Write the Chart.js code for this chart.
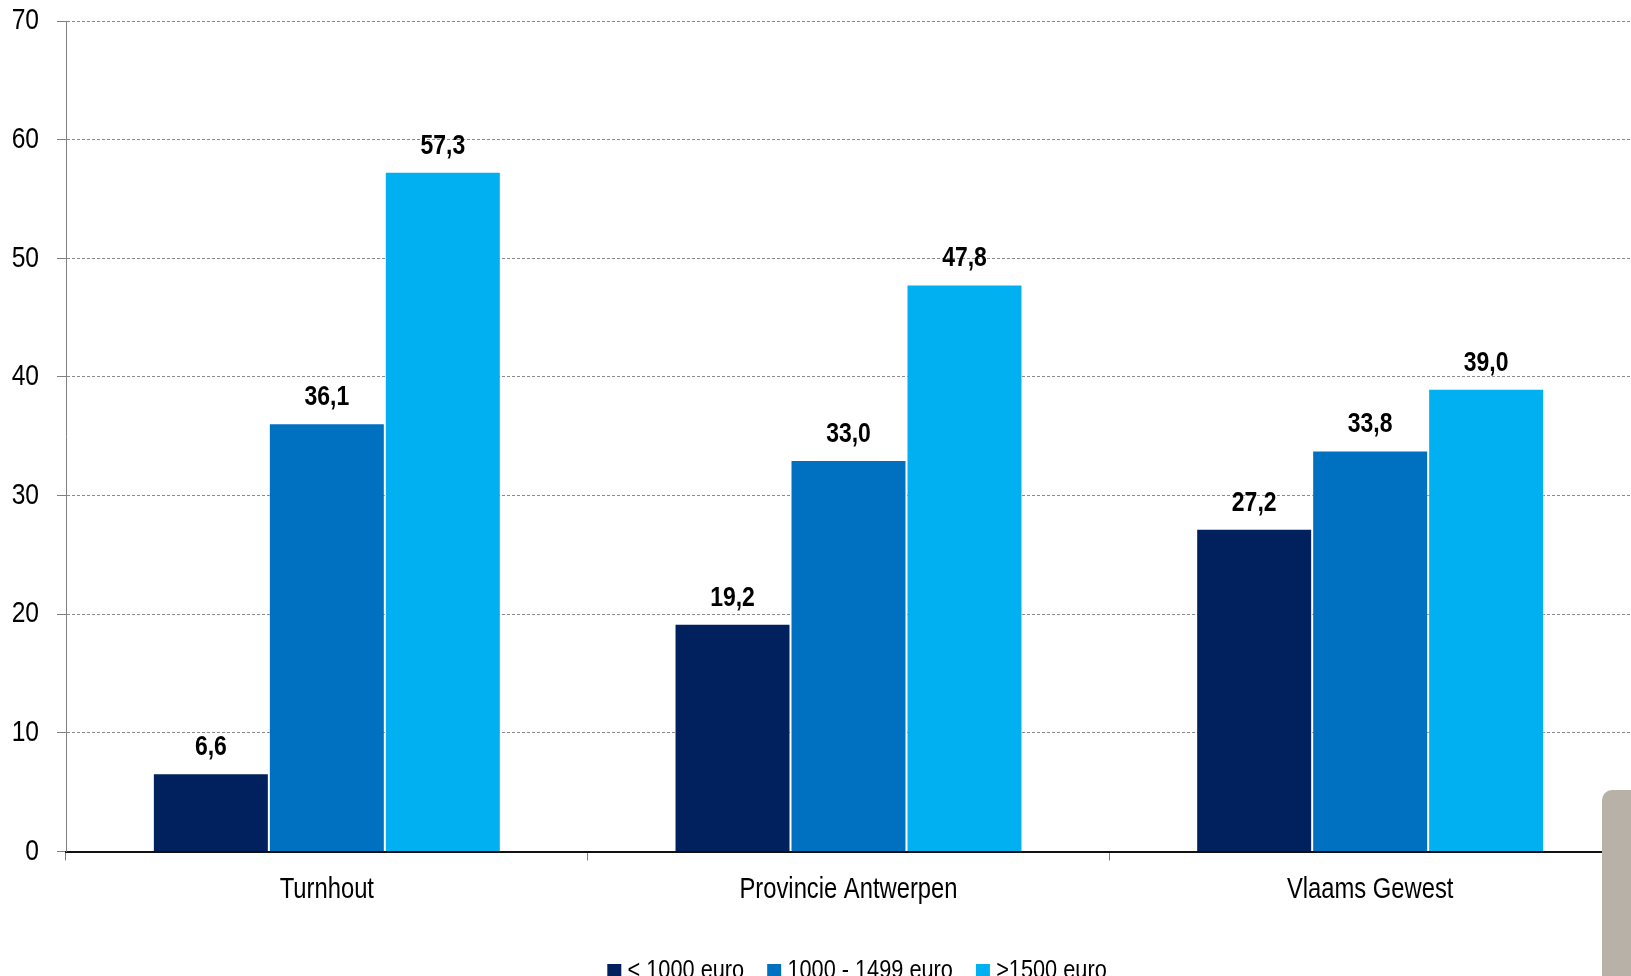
<!DOCTYPE html>
<html>
<head>
<meta charset="utf-8">
<script src="https://cdn.jsdelivr.net/npm/chart.js@4"></script>
<style>
  html, body { margin: 0; padding: 0; background: #fff; overflow: hidden; }
  #wrap { position: relative; width: 1631px; height: 976px; overflow: hidden; }
  #deco { position: absolute; left: 1602px; top: 790px; width: 40px; height: 200px;
          background: #b8b1a7; border-top-left-radius: 10px; }
</style>
</head>
<body>
<div id="wrap">
  <canvas id="c" width="1631" height="994"></canvas>
  <div id="deco"></div>
</div>
<script>
const categories = ['Turnhout', 'Provincie Antwerpen', 'Vlaams Gewest'];
const seriesNames = ['< 1000 euro', '1000 - 1499 euro', '>1500 euro'];
const below1000 = [6.6, 19.2, 27.2];
const from1000to1499 = [36.1, 33.0, 33.8];
const above1500 = [57.3, 47.8, 39.0];
const yTicks = [0, 10, 20, 30, 40, 50, 60, 70];
const seriesColors = ['#00205E', '#0070C0', '#00B0F0'];

const NARROW = '"Arial Narrow", "Liberation Sans", Arial, sans-serif';

// Condense narrow-family text horizontally (no narrow font installed)
const canvas = document.getElementById('c');
const ctx2d = canvas.getContext('2d');
const K = 0.82;
const origFill = ctx2d.fillText.bind(ctx2d);
const origMeasure = ctx2d.measureText.bind(ctx2d);
ctx2d.fillText = function (t, x, y) {
  if (!String(this.font).includes('Narrow')) { origFill(t, x, y); return; }
  this.save();
  this.translate(x, y);
  this.scale(K, 1);
  origFill(t, 0, 0);
  this.restore();
};
ctx2d.measureText = function (t) {
  const m = origMeasure(t);
  if (!String(this.font).includes('Narrow')) return m;
  return {
    width: m.width * K,
    actualBoundingBoxAscent: m.actualBoundingBoxAscent,
    actualBoundingBoxDescent: m.actualBoundingBoxDescent,
    actualBoundingBoxLeft: m.actualBoundingBoxLeft * K,
    actualBoundingBoxRight: m.actualBoundingBoxRight * K
  };
};

// legend swatches: 14px square placed just before the label text
const swatches = seriesColors.map(c => {
  const s = document.createElement('canvas');
  s.width = 40; s.height = 14;
  const g = s.getContext('2d');
  g.fillStyle = c; g.fillRect(25, 0, 14, 14);
  return s;
});

const valueLabels = {
  id: 'valueLabels',
  afterDatasetsDraw(chart) {
    const ctx = chart.ctx;
    ctx.save();
    ctx.font = 'bold 28px ' + NARROW;
    ctx.fillStyle = '#000';
    ctx.textAlign = 'center';
    ctx.textBaseline = 'alphabetic';
    chart.data.datasets.forEach((ds, i) => {
      const meta = chart.getDatasetMeta(i);
      meta.data.forEach((bar, j) => {
        const v = ds.data[j];
        ctx.fillText(v.toFixed(1).replace('.', ','), bar.x, bar.y - 18);
      });
    });
    ctx.restore();
  }
};

new Chart(canvas, {
  type: 'bar',
  data: {
    labels: categories,
    datasets: [
      { label: seriesNames[0], data: below1000, backgroundColor: seriesColors[0] },
      { label: seriesNames[1], data: from1000to1499, backgroundColor: seriesColors[1] },
      { label: seriesNames[2], data: above1500, backgroundColor: seriesColors[2] }
    ].map(d => Object.assign(d, { borderColor: 'rgba(255,255,255,0.35)', borderWidth: 1,
      categoryPercentage: 0.667, barPercentage: 1.0 }))
  },
  options: {
    responsive: false,
    animation: false,
    layout: { padding: { top: 21, right: 0, left: 0, bottom: 0 } },
    plugins: {
      legend: {
        position: 'bottom',
        fullSize: false,
        labels: {
          font: { family: NARROW, size: 26.5 },
          color: '#000',
          usePointStyle: true,
          pointStyleWidth: 24,
          boxHeight: 14,
          padding: 6,
          generateLabels(chart) {
            return Chart.defaults.plugins.legend.labels.generateLabels(chart)
              .map((l, i) => Object.assign(l, { pointStyle: swatches[i] }));
          }
        }
      },
      tooltip: { enabled: false }
    },
    scales: {
      x: {
        offset: true,
        grid: { offset: true, drawOnChartArea: false, drawTicks: true, tickLength: 9,
                tickColor: '#808080', tickWidth: 1 },
        border: { display: true, color: '#111', width: 2 },
        ticks: { font: { family: NARROW, size: 29 }, color: '#000', padding: 12, maxRotation: 0 },
        afterFit(scale) { scale.height = 100; scale.paddingLeft = 0; scale.paddingRight = 0; }
      },
      y: {
        min: 0, max: 70,
        afterBuildTicks(scale) { scale.ticks = yTicks.map(v => ({ value: v })); },
        grid: { color: '#8a8a8a', lineWidth: 1, drawTicks: true, tickLength: 9,
                tickColor: '#808080', tickBorderDash: [], tickWidth: 1 },
        border: { display: true, color: '#808080', width: 1, dash: [3, 2] },
        ticks: { font: { family: NARROW, size: 30 }, color: '#000', padding: 18 },
        afterFit(scale) { scale.width = 66; scale.paddingTop = 0; scale.paddingBottom = 0; }
      }
    }
  },
  plugins: [valueLabels]
});
</script>
</body>
</html>
